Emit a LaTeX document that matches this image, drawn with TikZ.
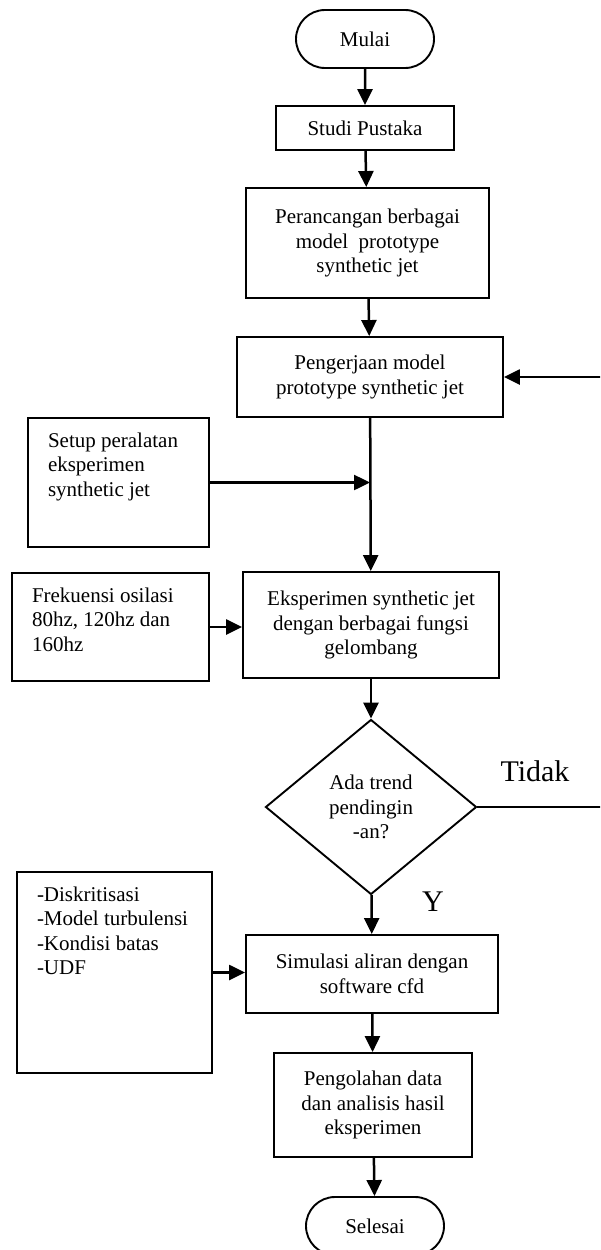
\documentclass[tikz,border=0pt]{standalone}
\usepackage{fontspec}
\setmainfont{Liberation Serif}
\usetikzlibrary{arrows.meta,shapes.geometric,shapes.misc}
\newcommand{\tlbox}[3]{\parbox[c][#2][t]{#1}{\raggedright\strut #3}}
\begin{document}
\begin{tikzpicture}[x=1pt,y=1pt,
  every node/.style={font=\fontsize{21}{24.5}\selectfont},
  box/.style={draw, line width=1.9pt, rectangle, align=center, inner sep=0pt},
  term/.style={draw, line width=1.9pt, rounded rectangle, minimum width=138pt, minimum height=58pt, inner sep=0pt},
  lbox/.style={draw, line width=1.9pt, rectangle, inner xsep=20pt, inner ysep=12pt},
  dec/.style={draw, line width=1.9pt, diamond, shape aspect=1.206, minimum width=211pt, minimum height=175pt, inner sep=0pt, align=center},
  arr/.style={line width=2.5pt, -{Triangle[length=16pt,width=15pt]}},
  big/.style={font=\fontsize{30}{34}\selectfont, inner sep=0pt}
]
\useasboundingbox[fill=white] (0,0) rectangle (600,-1250);
\begin{scope}
\clip (0,0) rectangle (600,-1250);

\node[term] (mulai) at (365,-39) {Mulai};
\node[box, minimum width=178pt, minimum height=44pt] (studi) at (365,-128) {Studi Pustaka};
\node[box, minimum width=243pt, minimum height=110pt] (peran) at (367.5,-243) {Perancangan berbagai\\model\ \ prototype\\synthetic jet};
\node[box, minimum width=266pt, minimum height=80pt] (peng) at (370,-377) {Pengerjaan model\\prototype synthetic jet};
\node[lbox] (setup) at (118.5,-482.5) {\tlbox{141pt}{105pt}{Setup peralatan\\eksperimen\\synthetic jet}};
\node[box, minimum width=256pt, minimum height=106pt] (eksp) at (371,-625) {Eksperimen synthetic jet\\dengan berbagai fungsi\\gelombang};
\node[lbox] (frek) at (110.5,-627) {\tlbox{157pt}{84pt}{Frekuensi osilasi\\80hz, 120hz dan\\160hz}};
\node[dec] (cond) at (371,-807) {Ada trend\\pendingin\\-an?};
\node[big] (tidak) at (535,-771) {Tidak};
\node[big] (ya) at (433,-902) {Y};
\node[lbox] (disk) at (114.5,-972.5) {\tlbox{155pt}{177pt}{-Diskritisasi\\-Model turbulensi\\-Kondisi batas\\-UDF}};
\node[box, minimum width=252pt, minimum height=78pt] (simul) at (372,-974) {Simulasi aliran dengan\\software cfd};
\node[box, minimum width=198pt, minimum height=104pt] (pengol) at (373,-1105) {Pengolahan data\\dan analisis hasil\\eksperimen};
\node[term] (selesai) at (375,-1226) {Selesai};

\coordinate (redge) at (605,0);

\draw[arr] (mulai) -- (studi);
\draw[arr] (studi) -- (peran);
\draw[arr] (peran) -- (peng);
\draw[arr] (peng) -- (eksp);
\draw[arr] (setup.east) -- (setup.east -| peng.south);
\draw[arr] (frek.east) -- (frek.east -| eksp.west);
\draw[arr] (eksp) -- (cond);
\draw[arr] (cond) -- (simul);
\draw[arr] (cond.east) -- (cond.east -| redge) -- (peng.east -| redge) -- (peng.east);
\draw[arr] (disk.east) -- (disk.east -| simul.west);
\draw[arr] (simul) -- (pengol);
\draw[arr] (pengol) -- (selesai);
\end{scope}
\end{tikzpicture}
\end{document}
